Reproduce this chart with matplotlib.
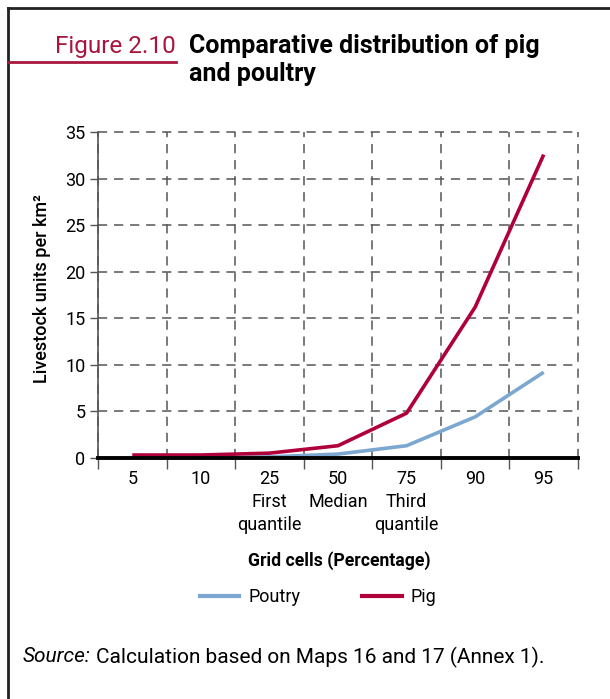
import matplotlib
matplotlib.use('Agg')
import matplotlib.pyplot as plt
from matplotlib.lines import Line2D
import numpy as np

plt.rcParams['font.family'] = ['Roboto', 'DejaVu Sans']

# Data
categories = ['5', '10', '25\nFirst\nquantile', '50\nMedian', '75\nThird\nquantile', '90', '95']
poultry = [0.0, 0.0, 0.1, 0.4, 1.3, 4.4, 9.2]
pig = [0.3, 0.3, 0.5, 1.3, 4.8, 16.2, 32.6]
yticks = [0, 5, 10, 15, 20, 25, 30, 35]

pig_col = '#b0003a'
poultry_col = '#7ba7d0'
grid_col = '#555555'

W, H = 610, 699
fig = plt.figure(figsize=(W / 100, H / 100), dpi=100)

def fx(px):
    return px / W

def fy(py):
    return 1 - py / H

# frame: top and left edges only
fig.add_artist(Line2D([fx(8), 1], [fy(7.5), fy(7.5)], color='#222222', lw=2))
fig.add_artist(Line2D([fx(8), fx(8)], [fy(7.5), 0], color='#222222', lw=2))

# heading
fig.text(fx(176), fy(46), 'Figure 2.10', color='#a8163f', fontsize=17.5,
         ha='right', va='center')
fig.add_artist(Line2D([fx(8), fx(176)], [fy(62), fy(62)], color='#a8163f', lw=2))
fig.text(fx(189), fy(46), 'Comparative distribution of pig', fontsize=18,
         fontweight='bold', ha='left', va='center')
fig.text(fx(189), fy(74), 'and poultry', fontsize=18,
         fontweight='bold', ha='left', va='center')

ax = fig.add_axes([fx(98), fy(457.8), fx(578) - fx(98), fy(132.3) - fy(457.8)])
x = np.arange(len(categories))

ax.plot(x, poultry, color=poultry_col, lw=2.6, solid_capstyle='butt', zorder=3)
ax.plot(x, pig, color=pig_col, lw=2.6, solid_capstyle='butt', zorder=4)

ax.set_xlim(-0.5, len(categories) - 0.5)
ax.set_ylim(0, 35)
ax.set_yticks(yticks)
ax.set_xticks(x)
ax.set_xticklabels(categories, fontsize=13, linespacing=1.33)
ax.set_xticks(np.arange(-0.5, len(categories)), minor=True)

ax.tick_params(axis='x', which='major', length=0, pad=9)
ax.tick_params(axis='x', which='minor', length=8, color=grid_col, width=1)
ax.tick_params(axis='y', length=6, color=grid_col, width=1, labelsize=13, pad=3)

ax.grid(True, axis='y', which='major', color=grid_col, lw=1.1, linestyle=(0, (6, 4.5)))
ax.grid(True, axis='x', which='minor', color=grid_col, lw=1.1, linestyle=(0, (6, 4.5)))
ax.grid(False, axis='x', which='major')
for t in ax.xaxis.get_minor_ticks() + ax.yaxis.get_major_ticks():
    t.gridline.set_clip_on(False)

for s in ['top', 'right']:
    ax.spines[s].set_visible(False)
ax.spines['left'].set_color(grid_col)
ax.spines['left'].set_linewidth(1.2)
ax.spines['bottom'].set_color('black')
ax.spines['bottom'].set_linewidth(2.8)
ax.spines['bottom'].set_zorder(5)

fig.text(fx(42), fy(289), 'Livestock units per km\u00b2', rotation=90, fontsize=13,
         fontweight='medium', ha='center', va='center')

fig.text(fx(339), fy(561), 'Grid cells (Percentage)', fontsize=12.7,
         fontweight='bold', ha='center', va='center')

handles = [Line2D([], [], color=poultry_col, lw=3), Line2D([], [], color=pig_col, lw=3)]
fig.legend(handles, ['Poutry', 'Pig'], loc='center', bbox_to_anchor=(fx(318), fy(597)),
           ncol=2, frameon=False, fontsize=13, handlelength=2.2, handletextpad=0.5,
           columnspacing=3.4)

# source line: italic label followed by regular text
fig.canvas.draw()
r = fig.canvas.get_renderer()
t1 = fig.text(fx(23), fy(657), 'Source:', fontsize=15, style='italic', ha='left', va='center')
bb = t1.get_window_extent(renderer=r)
fig.text(bb.x1 / W + fx(5), fy(657), 'Calculation based on Maps 16 and 17 (Annex 1).',
         fontsize=15, ha='left', va='center')

fig.savefig('out.png', dpi=100)
